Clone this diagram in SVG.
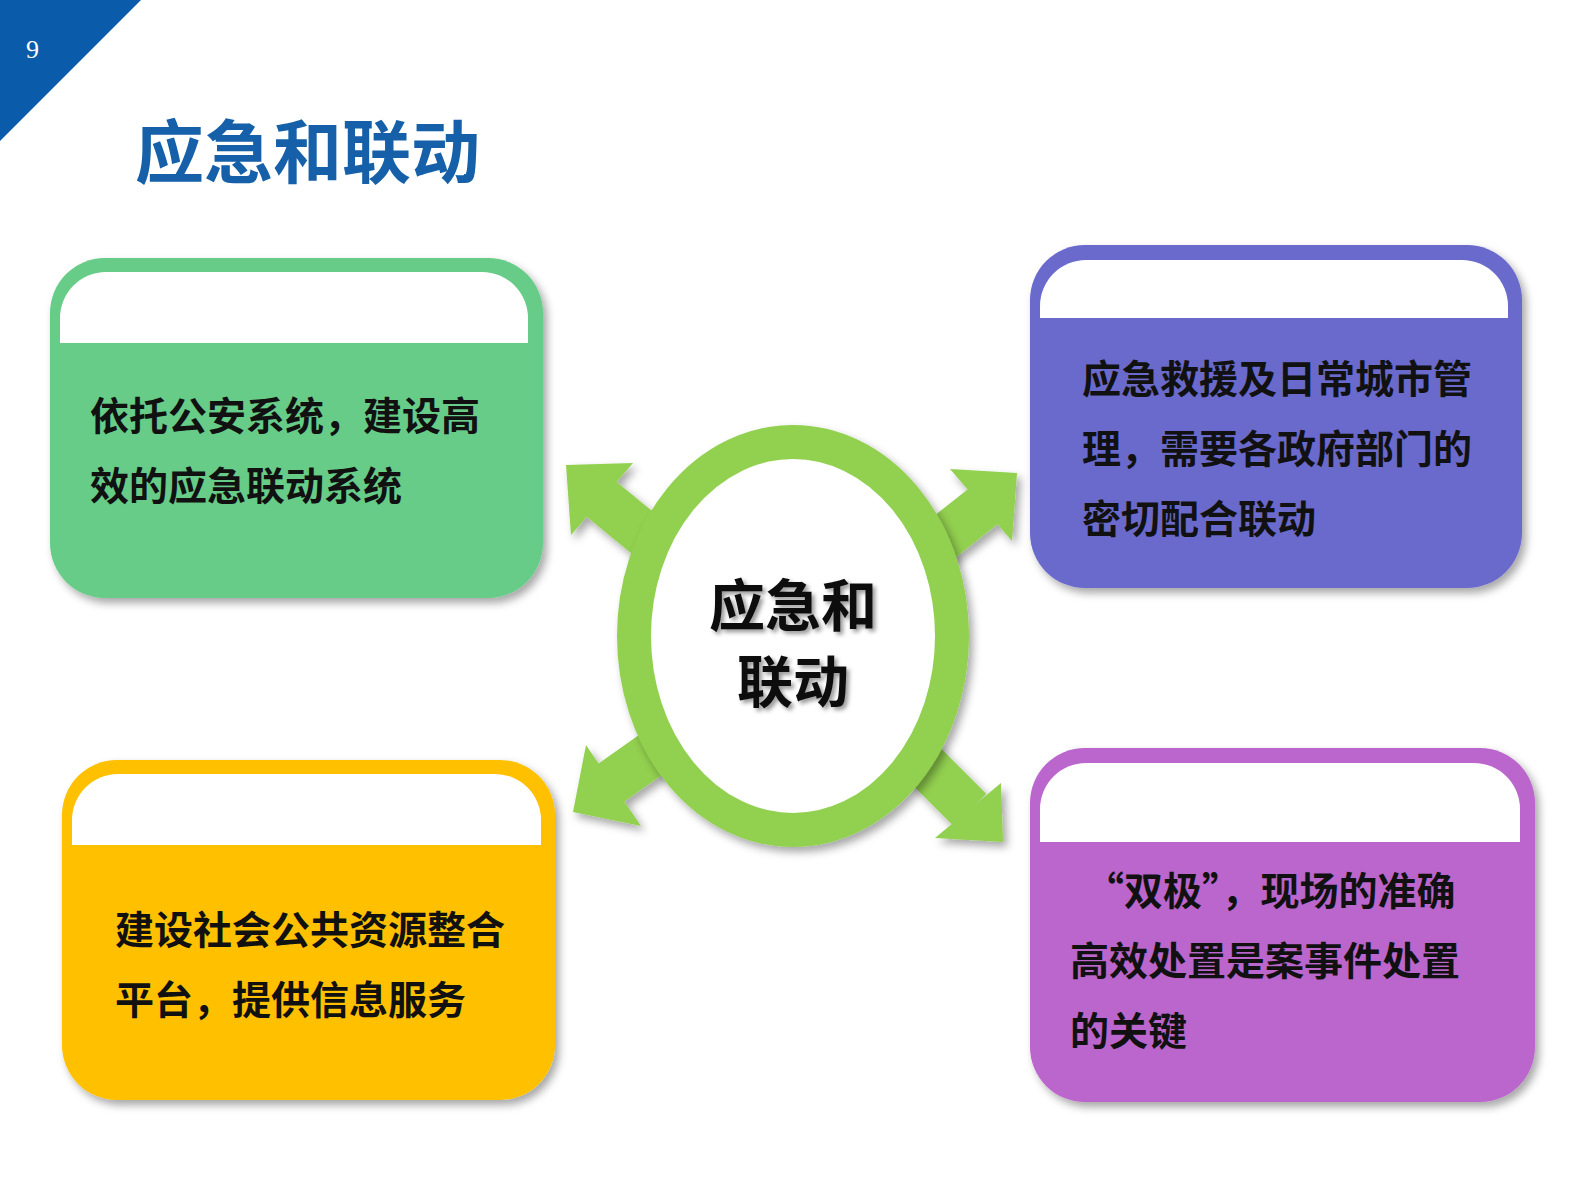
<svg xmlns="http://www.w3.org/2000/svg" width="1587" height="1190" viewBox="0 0 1587 1190">
<defs>
<filter id="sh" x="-10%" y="-10%" width="130%" height="130%"><feDropShadow dx="4" dy="5" stdDeviation="4" flood-color="#000" flood-opacity="0.35"/></filter>
<filter id="ts"><feDropShadow dx="3" dy="3" stdDeviation="2" flood-color="#000" flood-opacity="0.4"/></filter>
</defs>
<style>
text{font-family:"Noto Sans CJK SC","Liberation Sans",sans-serif;font-weight:bold}
.t{font-size:39px;fill:#111}
.w{fill:#fff}
</style>
<rect width="1587" height="1190" fill="#fff"/>
<polygon points="0,0 141,0 0,141" fill="#0A5CAA"/>
<text x="26" y="58" font-size="26" fill="#fff" style="font-family:'Liberation Serif',serif;font-weight:normal">9</text>
<text x="135" y="178" font-size="69" fill="#1560A8">应急和联动</text>

<g id="connectors" fill="#92D050" stroke="none" filter="url(#sh)">
<line x1="700" y1="580" x2="600" y2="498" stroke="#92D050" stroke-width="46"/>
<polygon points="566,465 633,463 571,535"/>
<line x1="890" y1="580" x2="985" y2="505" stroke="#92D050" stroke-width="46"/>
<polygon points="1017,473 950,469 1012,541"/>
<line x1="700" y1="720" x2="608" y2="785" stroke="#92D050" stroke-width="46"/>
<polygon points="573,812 586,745 641,826"/>
<line x1="880" y1="720" x2="970" y2="810" stroke="#92D050" stroke-width="46"/>
<polygon points="1003,842 935,838 1001,783"/>
</g>
<g id="center">
<ellipse cx="793" cy="636" rx="159" ry="194" fill="#fff" stroke="#92D050" stroke-width="34" filter="url(#sh)"/>
<text x="793" y="626" font-size="56" text-anchor="middle" fill="#111" filter="url(#ts)">应急和</text>
<text x="793" y="702" font-size="56" text-anchor="middle" fill="#111" filter="url(#ts)">联动</text>
</g>

<g id="box1">
<rect x="50" y="258" width="493" height="340" rx="55" fill="#66CC88" filter="url(#sh)"/>
<path d="M60,343 V318 A46,46 0 0 1 106,272 H482 A46,46 0 0 1 528,318 V343 Z" class="w"/>
<text x="90" y="430" class="t">依托公安系统，建设高</text>
<text x="90" y="500" class="t">效的应急联动系统</text>
</g>
<g id="box2">
<rect x="1030" y="245" width="492" height="343" rx="55" fill="#6B6BCC" filter="url(#sh)"/>
<path d="M1040,318 V306 A46,46 0 0 1 1086,260 H1462 A46,46 0 0 1 1508,306 V318 Z" class="w"/>
<text x="1082" y="393" class="t">应急救援及日常城市管</text>
<text x="1082" y="463" class="t">理，需要各政府部门的</text>
<text x="1082" y="533" class="t">密切配合联动</text>
</g>
<g id="box3">
<rect x="62" y="760" width="493" height="340" rx="55" fill="#FFC000" filter="url(#sh)"/>
<path d="M72,845 V820 A46,46 0 0 1 118,774 H495 A46,46 0 0 1 541,820 V845 Z" class="w"/>
<text x="115" y="944" class="t">建设社会公共资源整合</text>
<text x="115" y="1014" class="t">平台，提供信息服务</text>
</g>
<g id="box4">
<rect x="1030" y="748" width="505" height="354" rx="55" fill="#BA66CC" filter="url(#sh)"/>
<path d="M1040,842 V809 A46,46 0 0 1 1086,763 H1474 A46,46 0 0 1 1520,809 V842 Z" class="w"/>
<text x="1085" y="905" class="t">“双极”，现场的准确</text>
<text x="1070" y="975" class="t">高效处置是案事件处置</text>
<text x="1070" y="1045" class="t">的关键</text>
</g>
</svg>
